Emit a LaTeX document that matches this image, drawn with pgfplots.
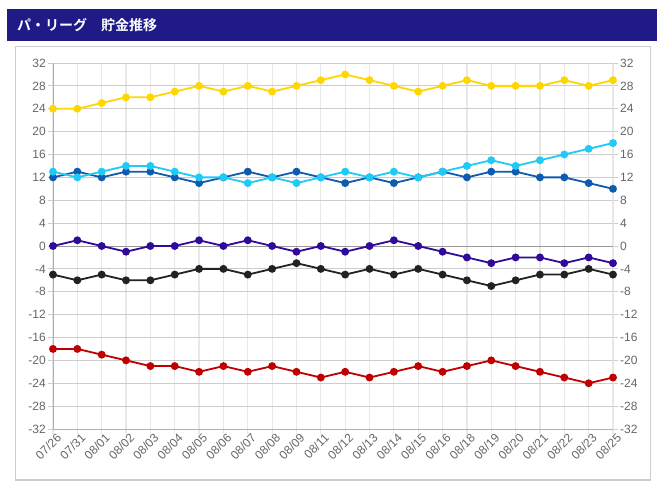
\documentclass[border=0pt]{standalone}
\usepackage{pgfplots}
\pgfplotsset{compat=1.18}
\usepackage{pgfplotstable}
\usepackage{fontspec}
\setmainfont{Liberation Sans}
\newfontfamily\cjk[BoldFont={Noto Sans CJK JP Bold}]{Noto Sans CJK JP}
\definecolor{navy}{HTML}{1F1A86}
\definecolor{cYel}{HTML}{FFD700}
\definecolor{cCyan}{HTML}{1ECBF5}
\definecolor{cBlue}{HTML}{0F5BAF}
\definecolor{cPur}{HTML}{320A99}
\definecolor{cBlk}{HTML}{222222}
\definecolor{cRed}{HTML}{C00000}
\definecolor{gridH}{HTML}{CCCCCC}
\definecolor{gridV}{HTML}{E8E8E8}
\definecolor{axisC}{HTML}{B0B0B0}
\definecolor{lab}{HTML}{666666}

\pgfplotstableread{
x yel cyan blue pur blk red
0 24 13 12 0 -5 -18
1 24 12 13 1 -6 -18
2 25 13 12 0 -5 -19
3 26 14 13 -1 -6 -20
4 26 14 13 0 -6 -21
5 27 13 12 0 -5 -21
6 28 12 11 1 -4 -22
7 27 12 12 0 -4 -21
8 28 11 13 1 -5 -22
9 27 12 12 0 -4 -21
10 28 11 13 -1 -3 -22
11 29 12 12 0 -4 -23
12 30 13 11 -1 -5 -22
13 29 12 12 0 -4 -23
14 28 13 11 1 -5 -22
15 27 12 12 0 -4 -21
16 28 13 13 -1 -5 -22
17 29 14 12 -2 -6 -21
18 28 15 13 -3 -7 -20
19 28 14 13 -2 -6 -21
20 28 15 12 -2 -5 -22
21 29 16 12 -3 -5 -23
22 28 17 11 -2 -4 -24
23 29 18 10 -3 -5 -23
}\datatable

\begin{document}
\begin{tikzpicture}[x=1pt,y=1pt]
\fill[white] (0,0) rectangle (664,490);
\path[use as bounding box] (0,0) rectangle (664,490);
\fill[navy] (7,449) rectangle (657,481);
\node[anchor=west, text=white, inner sep=0pt, font=\cjk\bfseries\fontsize{14}{16}\selectfont] at (17,465) {パ・リーグ　貯金推移};
\draw[gridH, line width=1pt] (15,10) rectangle (650,443);

\begin{axis}[
  at={(53pt,61pt)}, anchor=south west,
  scale only axis, width=560pt, height=366pt,
  xmin=0, xmax=23, ymin=-32, ymax=32,
  axis x line=none, axis y line*=right,
  axis line style={gridV, line width=1.2pt, -},
  ytick={-32,-28,...,32},
  tick align=outside, major tick length=5pt,
  ytick style={gridH, line width=0.8pt},
  tick label style={font=\fontsize{12}{14}\selectfont, text=lab},
  /pgf/number format/assume math mode=true,
  y tick label style={inner sep=2pt},
]
\end{axis}

\begin{axis}[
  at={(53pt,61pt)}, anchor=south west,
  scale only axis, width=560pt, height=366pt,
  xmin=0, xmax=23, ymin=-32, ymax=32,
  xtick={0,...,23},
  xticklabels={07/26,07/31,08/01,08/02,08/03,08/04,08/05,08/06,08/07,08/08,08/09,08/11,08/12,08/13,08/14,08/15,08/16,08/18,08/19,08/20,08/21,08/22,08/23,08/25},
  ytick={-32,-28,...,32},
  axis x line*=bottom, axis y line*=left,
  axis line style={axisC, line width=1pt, -},
  tick align=outside, major tick length=5pt,
  xtick style={gridV, line width=1.2pt},
  ytick style={gridH, line width=0.8pt},
  xmajorgrids, ymajorgrids,
  x grid style={gridV, line width=1.2pt},
  y grid style={gridH, line width=0.8pt},
  tick label style={font=\fontsize{12}{14}\selectfont, text=lab},
  /pgf/number format/assume math mode=true,
  x tick label style={rotate=45, anchor=north east, inner sep=1pt, xshift=4pt},
  y tick label style={inner sep=2pt},
  clip=false,
  every axis plot/.append style={line width=1.8pt, mark=*, mark size=3pt},
]
\addplot[gray!80, line width=1pt, mark=none] coordinates {(0,0) (23,0)};
\addplot[cYel] table[x=x,y=yel] {\datatable};
\addplot[cBlue] table[x=x,y=blue] {\datatable};
\addplot[cCyan] table[x=x,y=cyan] {\datatable};
\addplot[cPur] table[x=x,y=pur] {\datatable};
\addplot[cBlk] table[x=x,y=blk] {\datatable};
\addplot[cRed] table[x=x,y=red] {\datatable};
\end{axis}
\end{tikzpicture}
\end{document}
